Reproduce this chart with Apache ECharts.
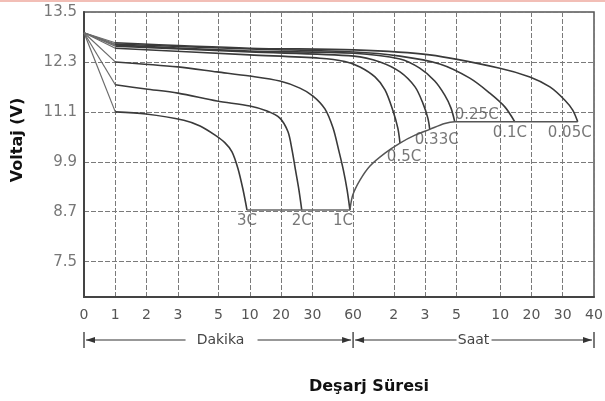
<!DOCTYPE html>
<html><head><meta charset="utf-8">
<script src="https://cdn.jsdelivr.net/npm/echarts@6.0.0/dist/echarts.min.js"></script>
<style>html,body{margin:0;padding:0;background:#fff}#c{width:605px;height:401px}</style>
</head><body><div id="c"></div>
<script>
// Axis ticks
const yTicks = [7.5, 8.7, 9.9, 11.1, 12.3, 13.5];
const xTickPos = [0, 1, 2, 3, 4.3, 5.3, 6.3, 7.3, 8.6, 9.9, 10.9, 11.9, 13.3, 14.3, 15.3, 16.3];
const xTickLabels = ['0','1','2','3','5','10','20','30','60','2','3','5','10','20','30','40'];
const unitNames = ['Dakika', 'Saat'];
const xTitle = 'Deşarj Süresi';
const yTitle = 'Voltaj (V)';

// Discharge curves: [axis position, volts]
const rateNames = ['3C','2C','1C','0.5C','0.33C','0.25C','0.1C','0.05C'];
const c3C   = [[0,13.0],[1,11.10],[1.98,11.05],[3.19,10.90],[3.71,10.76],[4.19,10.54],[4.5,10.36],[4.73,10.14],[4.92,9.74],[5.08,9.24],[5.21,8.74]];
const c2C   = [[0,13.0],[1,11.75],[1.98,11.65],[3.0,11.55],[4.25,11.36],[5.3,11.24],[5.85,11.12],[6.26,10.95],[6.52,10.62],[6.65,10.18],[6.76,9.70],[6.87,9.22],[6.96,8.74]];
const c1C   = [[0,13.0],[1,12.30],[3.0,12.18],[4.25,12.06],[5.3,11.96],[6.26,11.84],[6.9,11.67],[7.32,11.48],[7.7,11.17],[7.96,10.71],[8.14,10.18],[8.29,9.70],[8.41,9.22],[8.5,8.74]];
const c05C  = [[0,13.0],[1,12.63],[5.3,12.47],[7.54,12.39],[8.34,12.31],[8.82,12.18],[9.3,11.94],[9.62,11.63],[9.87,11.14],[10.03,10.71],[10.1,10.35]];
const c033C = [[0,13.0],[1,12.68],[5.3,12.54],[8.63,12.44],[9.46,12.30],[10.1,12.06],[10.58,11.70],[10.83,11.31],[10.99,10.95],[11.05,10.68]];
const c025C = [[0,13.0],[1,12.71],[5.3,12.56],[8.63,12.51],[10.1,12.37],[10.73,12.15],[11.21,11.84],[11.53,11.50],[11.73,11.19],[11.85,10.86]];
const c01C  = [[0,13.0],[1,12.73],[5.3,12.61],[8.63,12.54],[10.1,12.44],[11.37,12.25],[12.33,11.91],[12.97,11.55],[13.45,11.22],[13.77,10.86]];
const c005C = [[0,13.0],[1,12.76],[5.3,12.63],[8.63,12.59],[11.05,12.47],[13.29,12.15],[14.25,11.94],[14.89,11.70],[15.37,11.38],[15.62,11.14],[15.78,10.86]];
const curves = [c3C, c2C, c1C, c05C, c033C, c025C, c01C, c005C];

// Final (cut-off) voltage lines
const endVoltage = [[8.5,8.74],[8.59,9.10],[8.82,9.46],[9.14,9.80],[9.62,10.11],[10.1,10.35],[10.58,10.54],[11.05,10.68],[11.53,10.82],[11.85,10.86],[15.78,10.86]];
const cutoffLow = [[5.21,8.74],[8.5,8.74]];

// label placement styles (not data)
const labelStyles = [
  {position:'bottom', distance:4},
  {position:'bottom', distance:4},
  {position:'bottom', distance:4, offset:[-7,0]},
  {position:'bottom', distance:7, offset:[4,0]},
  {position:'bottom', distance:3, offset:[7,0]},
  {position:'right', distance:0, offset:[0,-7]},
  {position:'bottom', distance:4, offset:[-5,0]},
  {position:'bottom', distance:4, offset:[-8,0]}
];

const FONT = "'DejaVu Sans', 'Liberation Sans', Arial, sans-serif";
const chart = echarts.init(document.getElementById('c'), null, {renderer:'canvas'});

const series = [];
curves.forEach((c, i) => {
  series.push({type:'line', data:c.slice(0,2), symbol:'none', silent:true, z:2,
    lineStyle:{color:'#6a6a6a', width:1.2}});
  series.push({type:'line', name:rateNames[i], data:c.slice(1), symbol:'none', smooth:0.3, z:3,
    lineStyle:{color:'#3a3a3a', width:1.6}});
});
series.push({type:'line', data:endVoltage, symbol:'none', smooth:0.3, z:3,
  lineStyle:{color:'#555', width:1.5}});
series.push({type:'line', data:cutoffLow, symbol:'none', z:3, lineStyle:{color:'#666', width:1.5}});
series.push({type:'scatter', symbolSize:0, z:5, silent:true,
  data: curves.map((c, i) => ({
    value: c[c.length-1],
    label: Object.assign({show:true, formatter:rateNames[i], color:'#555', fontSize:15, fontFamily:FONT}, labelStyles[i])
  }))
});

chart.setOption({
  animation:false,
  backgroundColor:'#fff',
  grid:{left:84, right:11, top:12, bottom:104, show:true, borderColor:'#555', borderWidth:1.5, outerBoundsMode:'none', containLabel:false},
  xAxis:{type:'value', min:0, max:16.3,
    axisLine:{show:true, lineStyle:{color:'#444', width:2}},
    axisTick:{show:false, customValues:xTickPos},
    axisLabel:{customValues:xTickPos, margin:11, color:'#555', fontSize:14, fontFamily:FONT,
      formatter:(v)=>{let best=0; xTickPos.forEach((p,i)=>{ if(Math.abs(p-v)<Math.abs(xTickPos[best]-v)) best=i;}); return xTickLabels[best];}},
    splitLine:{show:true, lineStyle:{color:'#7a7a7a', type:[5,2], width:1}}
  },
  yAxis:{type:'value', min:6.65, max:13.5,
    axisLine:{show:true, lineStyle:{color:'#444', width:2}},
    axisTick:{show:false, customValues:yTicks},
    axisLabel:{customValues:yTicks, margin:7, color:'#777', fontSize:15, fontFamily:FONT,
      formatter:(v)=>v.toFixed(1)},
    splitLine:{show:true, lineStyle:{color:'#7a7a7a', type:[5,2], width:1}}
  },
  series
});

// Annotation bracket under the x axis
const px = (v) => chart.convertToPixel({xAxisIndex:0}, v);
const yBottom = chart.convertToPixel({yAxisIndex:0}, 6.65);
const xa = px(xTickPos[0]), xm = px(xTickPos[8]), xb = px(xTickPos[15]);
const yb = yBottom + 43;
const col = '#333';
const g = [];
function vbar(x){ g.push({type:'line', shape:{x1:x, y1:yb-8, x2:x, y2:yb+8}, style:{stroke:col, lineWidth:1.3}}); }
function hline(x1,x2){ g.push({type:'line', shape:{x1, y1:yb, x2, y2:yb}, style:{stroke:col, lineWidth:1.1}}); }
function arrow(x, dir){ g.push({type:'polygon', shape:{points:[[x,yb],[x-dir*9,yb-3],[x-dir*9,yb+3]]}, style:{fill:col}}); }
function label(x, t){ g.push({type:'text', x, y:yb, style:{text:t, fill:'#444', font:'14px '+FONT, align:'center', verticalAlign:'middle'}}); }
vbar(xa); vbar(xm); vbar(xb);
const d1 = (xa+xm)/2 + 2, d2 = (xm+xb)/2;
hline(xa+2, d1-35); hline(d1+37, xm-2); arrow(xa+2, -1); arrow(xm-2, 1); label(d1, unitNames[0]);
hline(xm+2, d2-17); hline(d2+18, xb-2); arrow(xm+2, -1); arrow(xb-2, 1); label(d2, unitNames[1]);
g.push({type:'text', x:369, y:387, style:{text:xTitle, fill:'#111', font:'bold 16px '+FONT, align:'center', verticalAlign:'middle'}});
g.push({type:'text', x:18, y:140, rotation:Math.PI/2, style:{text:yTitle, fill:'#111', font:'bold 16px '+FONT, align:'center', verticalAlign:'middle'}});
g.push({type:'rect', shape:{x:0, y:0, width:605, height:2}, style:{fill:'#f2beb6'}});
chart.setOption({graphic:g});
</script>
</body></html>
